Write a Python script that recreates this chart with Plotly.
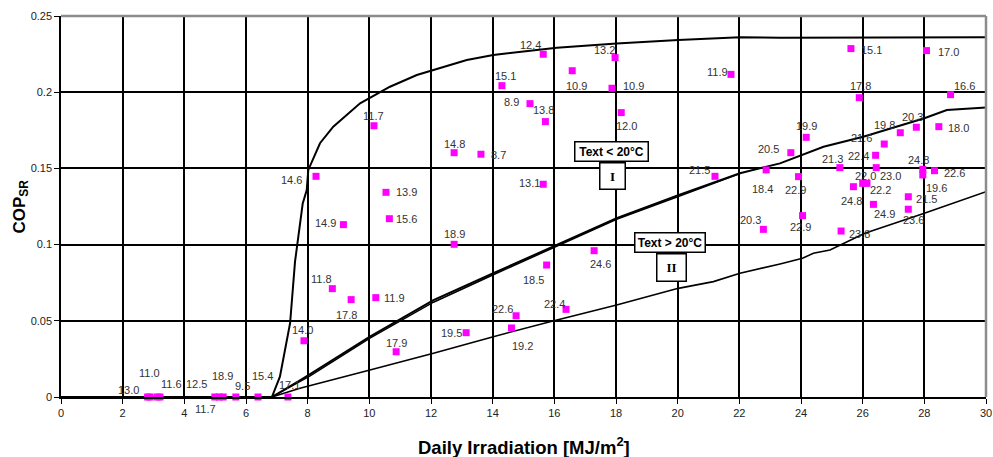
import plotly.graph_objects as go

# ---- data ----
pt_x = [2.81, 2.89, 3.12, 3.21, 4.99, 5.13, 5.26, 5.67, 6.39, 7.36,
        8.27, 7.88, 10.15, 14.30, 15.64, 15.21, 15.71, 12.75, 13.62, 15.64,
        10.54, 9.16, 10.65, 12.75, 8.80, 9.41, 10.21, 10.87, 13.14, 14.76,
        14.61, 15.75, 17.29, 16.38, 17.97, 16.58, 17.87, 18.17, 21.73, 21.21,
        23.67, 22.87, 23.92, 22.78, 24.05, 25.30, 25.62, 28.07, 25.89, 28.85,
        24.17, 27.22, 27.74, 28.47, 26.70, 26.42, 25.26, 26.44, 26.14, 26.00,
        25.70, 26.35, 27.48, 27.48, 27.95, 27.95, 28.33]
pt_y = [0, 0, 0, 0, 0, 0, 0, 0, 0, 0,
        0.1448, 0.0369, 0.1780, 0.2043, 0.2249, 0.1925, 0.1807, 0.1603, 0.1593, 0.1396,
        0.1343, 0.1131, 0.1170, 0.1002, 0.0711, 0.0639, 0.0652, 0.0297, 0.0422, 0.0533,
        0.0453, 0.0866, 0.0960, 0.0575, 0.2227, 0.2141, 0.2026, 0.1866, 0.2117, 0.1448,
        0.1603, 0.1490, 0.1446, 0.1100, 0.1190, 0.1089, 0.2286, 0.2273, 0.1964, 0.1984,
        0.1704, 0.1734, 0.1770, 0.1774, 0.1660, 0.1586, 0.1505, 0.1505, 0.1402, 0.1402,
        0.1380, 0.1264, 0.1314, 0.1232, 0.1494, 0.1457, 0.1485]
pt_label = ["13.0", "11.0", "", "11.6", "12.5", "11.7", "18.9", "9.5", "15.4", "17.1",
            "14.6", "14.0", "11.7", "15.1", "12.4", "8.9", "13.8", "14.8", "8.7", "13.1",
            "13.9", "14.9", "15.6", "18.9", "11.8", "17.8", "11.9", "17.9", "19.5", "22.6",
            "19.2", "18.5", "24.6", "22.4", "13.2", "10.9", "10.9", "12.0", "11.9", "21.5",
            "20.5", "18.4", "22.9", "20.3", "22.9", "23.8", "15.1", "17.0", "17.8", "16.6",
            "19.9", "19.8", "20.3", "18.0", "21.6", "22.4", "21.3", "23.0", "22.0", "22.2",
            "24.8", "24.9", "21.5", "23.6", "24.8", "19.6", "22.6"]

# label offsets from the marker, in screen pixels (styling only)
lab_dx = [-19, -1, 0, 12, -18, -14, -1, 7, 4, 2,
          -24, -1, 0, 4, -13, -18, -2, 0, 18, -14,
          21, -18, 17, 0, -11, -5, 19, 0, -15, -14,
          11, -13, 6, -12, -11, 4, 22, 5, -14, -15,
          -22, -4, -3, -13, -2, 18, 21, 22, 1, 14,
          0, -16, -4, 20, -23, -17, -7, 14, -1, 18,
          -2, 11, 18, 5, -4, 14, 20]
lab_dy = [-7, -24, 0, -13, -13, 12, -21, -11, -21, -12,
          4, -11, -10, -10, -9, -2, -12, -9, 1, -1,
          0, -2, 0, -10, -10, 15, 0, -9, 0, -7,
          18, 15, 13, -5, -8, 15, -2, 13, -2, -6,
          -4, 19, 13, -9, 11, 3, 1, 1, -12, -9,
          -11, -8, -10, 1, -6, 1, -9, 8, -7, 7,
          14, 10, 2, 11, -9, 13, 2]

env_x = [0, 6.84, 7.10, 7.43, 7.59, 7.66, 7.84, 7.97, 8.02, 8.40, 8.83, 9.70, 10.67,
         11.54, 13.16, 14.02, 15.32, 16.08, 18.02, 20.02, 22.02, 23.32, 30]
env_y = [0, 0, 0.0133, 0.0484, 0.0888, 0.0986, 0.1270, 0.1358, 0.1490, 0.1665, 0.1774, 0.1927, 0.2036,
         0.2113, 0.2211, 0.2244, 0.2277, 0.2292, 0.2320, 0.2343, 0.2360, 0.2358, 0.2360]

c1a_x = [0, 6.84, 7.75, 8.08, 10.02, 12.08, 14.02, 15.86, 18.02, 20.02, 22.02, 23.32, 24.73, 26.02, 28.00, 28.73, 30]
c1a_y = [0, 0, 0.0110, 0.0150, 0.0396, 0.0636, 0.0812, 0.0976, 0.1173, 0.1325, 0.1468, 0.1533, 0.1642, 0.1708, 0.1829, 0.1883, 0.1899]
c1b_x = [6.84, 7.75, 8.08, 10.02, 12.08, 14.02, 15.86, 18.02, 20.02, 21.20, 22.02]
c1b_y = [0, 0.0100, 0.0138, 0.0386, 0.0622, 0.0802, 0.0968, 0.1166, 0.1316, 0.1405, 0.1466]

c2_x = [6.84, 7.75, 10.02, 12.08, 14.02, 15.86, 18.02, 20.02, 21.16, 22.02, 23.32, 24.05, 24.40, 24.94, 26.07, 28.00, 30]
c2_y = [0, 0.0057, 0.0177, 0.0287, 0.0396, 0.0494, 0.0604, 0.0713, 0.0757, 0.0812, 0.0873, 0.0910, 0.0943, 0.0965, 0.1074, 0.1205, 0.1347]

x_ticks = list(range(0, 31, 2))
y_ticks = [0, 0.05, 0.1, 0.15, 0.2, 0.25]
y_ticklabels = ["0", "0.05", "0.1", "0.15", "0.2", "0.25"]

FONT = "Liberation Sans, Arial, sans-serif"

fig = go.Figure()
line_style = dict(color="black", width=2)
fig.add_trace(go.Scatter(x=env_x, y=env_y, mode="lines", line=line_style, hoverinfo="skip"))
fig.add_trace(go.Scatter(x=c1a_x, y=c1a_y, mode="lines", line=line_style, hoverinfo="skip"))
fig.add_trace(go.Scatter(x=c1b_x, y=c1b_y, mode="lines", line=dict(color="black", width=1.5), hoverinfo="skip"))
fig.add_trace(go.Scatter(x=c2_x, y=c2_y, mode="lines", line=dict(color="black", width=1.6), hoverinfo="skip"))
fig.add_trace(go.Scatter(
    x=pt_x, y=pt_y, mode="markers",
    marker=dict(symbol="square", size=7, color="#ff00ff"),
    cliponaxis=False))

for x, y, t, dx, dy in zip(pt_x, pt_y, pt_label, lab_dx, lab_dy):
    if not t:
        continue
    fig.add_annotation(x=x, y=y, text=t, showarrow=False, xshift=dx, yshift=-dy,
                       xanchor="center", yanchor="middle",
                       font=dict(family=FONT, size=11, color="#333333"))

fig.update_layout(
    width=993, height=457,
    margin=dict(l=61, r=7, t=16, b=60, autoexpand=False),
    paper_bgcolor="white", plot_bgcolor="white",
    showlegend=False,
    font=dict(family=FONT, size=11, color="#222222"),
)
fig.update_xaxes(range=[0, 30], tickvals=x_ticks, showgrid=True, gridcolor="black", gridwidth=1.5,
                 showline=True, linecolor="black", linewidth=1.5, ticks="outside", ticklen=5,
                 tickcolor="black", zeroline=False, tickfont=dict(size=11), automargin=False)
fig.update_yaxes(range=[0, 0.25], tickvals=y_ticks, ticktext=y_ticklabels, showgrid=True,
                 gridcolor="black", gridwidth=1.5, showline=True, linecolor="black", linewidth=1.5,
                 ticks="outside", ticklen=5, tickcolor="black", zeroline=False, tickfont=dict(size=11),
                 automargin=False)

# gray plot-area frame on top and right
fig.add_shape(type="line", xref="paper", yref="paper", x0=0, x1=1, y0=1, y1=1,
              line=dict(color="#8c8c8c", width=2.5), layer="above")
fig.add_shape(type="line", xref="paper", yref="paper", x0=1, x1=1, y0=0, y1=1,
              line=dict(color="#8c8c8c", width=2.5), layer="above")

# legend-like boxes
box_font = dict(family=FONT, size=12, color="black")
fig.add_annotation(x=17.84, y=0.161, text="<b>Text &lt; 20°C</b>", showarrow=False, font=box_font,
                   bgcolor="white", bordercolor="black", borderwidth=1.5, width=70, height=16)
fig.add_annotation(x=17.9, y=0.1451, text="<b>I</b>", showarrow=False,
                   font=dict(family="Liberation Serif, Times New Roman, serif", size=13, color="black"),
                   bgcolor="white", bordercolor="black", borderwidth=1.5, width=22, height=23)
fig.add_annotation(x=19.75, y=0.1015, text="<b>Text &gt; 20°C</b>", showarrow=False, font=box_font,
                   bgcolor="white", bordercolor="black", borderwidth=1.5, width=67, height=16)
fig.add_annotation(x=19.79, y=0.085, text="<b>II</b>", showarrow=False,
                   font=dict(family="Liberation Serif, Times New Roman, serif", size=13, color="black"),
                   bgcolor="white", bordercolor="black", borderwidth=1.5, width=26, height=24)

# axis titles
fig.add_annotation(xref="paper", yref="paper", x=0.5, y=0, yshift=-49, xanchor="center", yanchor="middle",
                   text="<b>Daily Irradiation [MJ/m<sup>2</sup>]</b>", showarrow=False,
                   font=dict(family=FONT, size=18.5, color="black"))
fig.add_annotation(xref="paper", yref="paper", x=0, xshift=-41, y=0.5, xanchor="center", yanchor="middle",
                   text="<b>COP<sub>SR</sub></b>", textangle=-90, showarrow=False,
                   font=dict(family=FONT, size=17, color="black"))

# remove the default page margin so the figure fills the window exactly
fig.write_html("out.html", config={"displayModeBar": False},
               post_script="document.body.style.margin='0';document.body.style.overflow='hidden';")
